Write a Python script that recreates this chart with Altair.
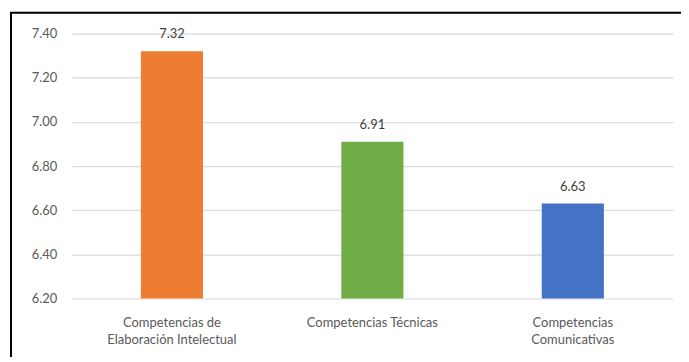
import altair as alt
import pandas as pd

categories = ["Competencias de\nElaboración Intelectual", "Competencias Técnicas", "Competencias\nComunicativas"]
values = [7.32, 6.91, 6.63]
colors = ["#ED7D31", "#70AD47", "#4472C4"]
y_ticks = [6.2, 6.4, 6.6, 6.8, 7.0, 7.2, 7.4]

df = pd.DataFrame({"cat": categories, "val": values, "color": colors})

FONT = "Lato"

x_enc = alt.X("cat:N", sort=categories, title=None,
              scale=alt.Scale(paddingInner=0.69, paddingOuter=0.345),
              axis=alt.Axis(labelAngle=0, labelExpr="split(datum.label, '\\n')",
                            labelFontSize=13, labelColor="#595959", labelFont=FONT,
                            labelPadding=18, labelLineHeight=17, ticks=False, domain=False,
                            labelBaseline="top"))
y_enc = alt.Y("val:Q", title=None,
              scale=alt.Scale(domain=[6.2, 7.4], zero=False, nice=False),
              axis=alt.Axis(values=y_ticks, format=".2f", labelFontSize=13,
                            labelColor="#595959", labelFont=FONT, labelPadding=15,
                            ticks=False, domain=False, gridColor="#d9d9d9", gridWidth=1.2))

bars = alt.Chart(df).mark_bar().encode(
    x=x_enc, y=y_enc, y2=alt.datum(6.2),
    color=alt.Color("color:N", scale=None)
)

labels = alt.Chart(df).mark_text(baseline="bottom", dy=-10, fontSize=13, font=FONT,
                                 color="#404040").encode(
    x=alt.X("cat:N", sort=categories), y="val:Q", text=alt.Text("val:Q", format=".2f")
)

border = alt.Chart(pd.DataFrame({"a": [0]})).mark_rect(
    filled=False, stroke="black", strokeWidth=2
).encode(x=alt.value(-61), x2=alt.value(640), y=alt.value(-21), y2=alt.value(360))

chart = alt.layer(bars, labels, border).properties(
    width=604, height=266,
    autosize=alt.AutoSizeParams(type="none"),
    padding={"left": 64, "top": 25, "right": 8, "bottom": 58},
).configure_view(stroke=None)

chart.save("out.html", embed_options={"renderer": "svg", "actions": False})
